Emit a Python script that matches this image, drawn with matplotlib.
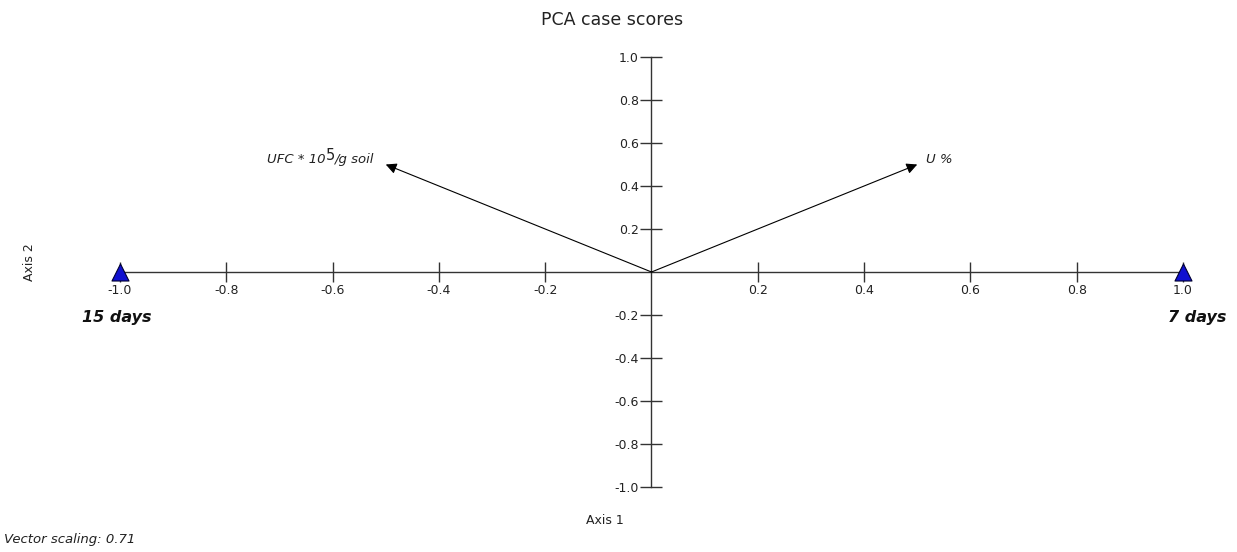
import matplotlib.pyplot as plt
import numpy as np

plt.rcParams['font.family'] = ['DejaVu Sans']

# case scores on axis 1 / axis 2
cases = ['15 days', '7 days']
case_x = [-1.0, 1.0]
case_y = [0.0, 0.0]

# variable vectors
vec_x = [-0.5, 0.5]
vec_y = [0.5, 0.5]

ticks = [-1.0, -0.8, -0.6, -0.4, -0.2, 0.2, 0.4, 0.6, 0.8, 1.0]

txt = '#222222'

fig = plt.figure(figsize=(12.37, 5.52), dpi=100)
ax = fig.add_axes([120 / 1237, 65 / 552, 1063 / 1237, 430 / 552])
ax.set_xlim(-1, 1)
ax.set_ylim(-1, 1)

# axes crossing at the origin
for side in ['top', 'right']:
    ax.spines[side].set_visible(False)
ax.spines['left'].set_position('zero')
ax.spines['bottom'].set_position('zero')
for side in ['left', 'bottom']:
    ax.spines[side].set_color('#333333')
    ax.spines[side].set_linewidth(1.0)

ax.set_xticks(ticks)
ax.set_yticks(ticks)
ax.set_xticklabels([f'{t:.1f}' for t in ticks])
ax.set_yticklabels([f'{t:.1f}' for t in ticks])
ax.tick_params(axis='x', direction='inout', length=14, width=1.0, color='#333333',
               labelsize=9, pad=1.5, labelcolor=txt)
ax.tick_params(axis='y', direction='inout', length=16, width=1.0, color='#333333',
               labelsize=9, pad=1, labelcolor=txt)

# vectors
for vx, vy in zip(vec_x, vec_y):
    ax.annotate('', xy=(vx, vy), xytext=(0, 0),
                arrowprops=dict(arrowstyle='-|>', color='black', lw=0.8,
                                mutation_scale=16, shrinkA=0, shrinkB=0))

# UFC label, built right to left so the exponent stays large
t1 = ax.annotate('/g soil', xy=(vec_x[0], vec_y[0]), xytext=(-8, 1),
                 textcoords='offset points', ha='right', va='baseline',
                 style='italic', fontsize=9.5, color=txt)
t2 = ax.annotate('5', xy=(-0.01, 0.25), xycoords=t1, ha='right', va='bottom',
                 fontsize=10.5, color=txt)
ax.annotate('UFC * 10', xy=(0, 0), xycoords=(t2, t1), ha='right', va='bottom',
            style='italic', fontsize=9.5, color=txt)

ax.annotate('U %', xy=(vec_x[1], vec_y[1]), xytext=(6, 1),
            textcoords='offset points', ha='left', va='baseline',
            style='italic', fontsize=9.5, color=txt)

# case points
ax.scatter(case_x, case_y, marker='^', s=150, color='#1010d0', edgecolor='#000033',
           linewidth=0.8, zorder=5, clip_on=False)
case_dx = [-2, 10]
for name, cx, dx in zip(cases, case_x, case_dx):
    ax.annotate(name, xy=(cx, 0), xytext=(dx, -33), textcoords='offset points',
                ha='center', va='center', fontsize=11.5, fontweight='bold',
                style='italic', color='#111111')

fig.text(612 / 1237, 1 - 20 / 552, 'PCA case scores', ha='center', va='center',
         fontsize=12.5, color=txt)
fig.text(605 / 1237, 1 - 520 / 552, 'Axis 1', ha='center', va='center',
         fontsize=9, color=txt)
fig.text(30 / 1237, 1 - 262 / 552, 'Axis 2', ha='center', va='center',
         rotation=90, fontsize=9, color=txt)
fig.text(4 / 1237, 1 - 540 / 552, 'Vector scaling: 0.71', ha='left', va='center',
         style='italic', fontsize=9.5, color=txt)

fig.savefig('out.png', dpi=100)
